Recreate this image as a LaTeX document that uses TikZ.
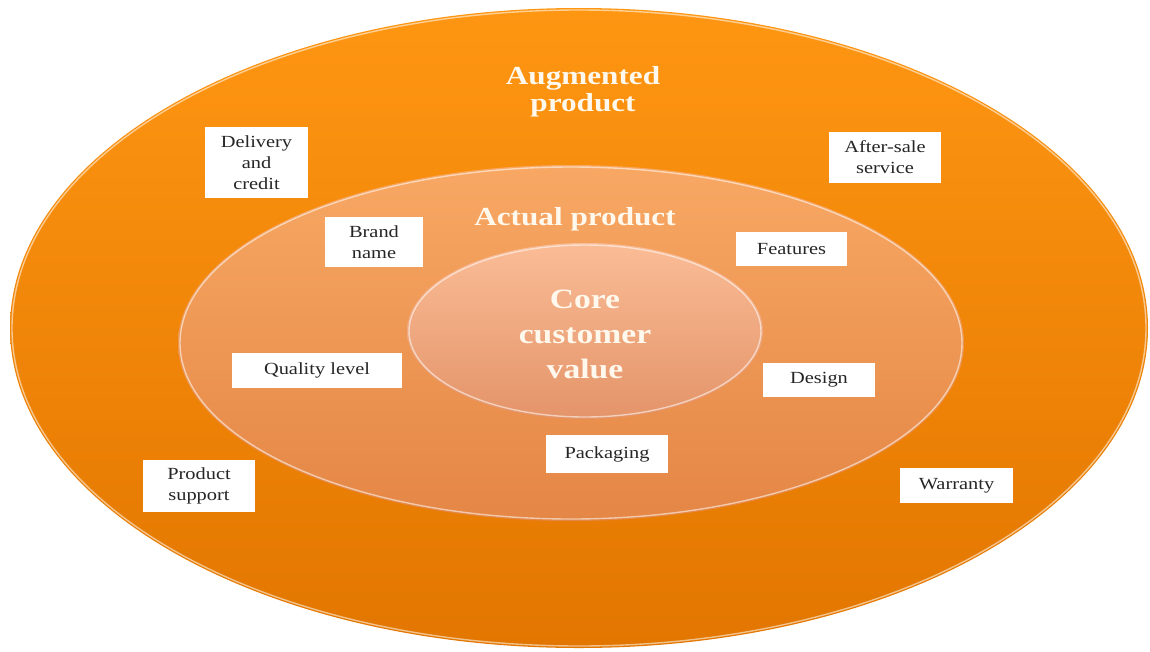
\documentclass[tikz,border=0pt]{standalone}
\usepackage{fontspec}
\setmainfont[FakeStretch=1.2]{Liberation Serif}
\definecolor{outerTop}{RGB}{255,150,18}
\definecolor{outerBot}{RGB}{226,118,0}
\definecolor{midTop}{RGB}{248,168,100}
\definecolor{midBot}{RGB}{228,134,70}
\definecolor{coreTop}{RGB}{250,188,150}
\definecolor{coreBot}{RGB}{228,148,105}
\definecolor{titleInk}{RGB}{255,248,236}
\tikzset{
  tag/.style={fill=white, inner sep=2pt, align=center, text=black!85,
    font=\fontsize{17}{21}\selectfont},
  ringtitle/.style={text=titleInk, align=center,
    font=\bfseries\fontsize{26}{27}\selectfont},
  bevel/.style={draw=white, draw opacity=0.55, line width=1.4pt}
}
\begin{document}
\begin{tikzpicture}[x=1pt,y=-1pt]
    \useasboundingbox (0,0) rectangle (1150,651);
    % the three rings
    \shade[top color=outerTop, bottom color=outerBot] (579,328) ellipse [x radius=569, y radius=320];
    \draw[bevel] (579,328) ellipse [x radius=567, y radius=318];
    \shade[top color=midTop, bottom color=midBot] (571,343) ellipse [x radius=393, y radius=178];
    \draw[bevel] (571,343) ellipse [x radius=391, y radius=176];
    \shade[top color=coreTop, bottom color=coreBot] (585,331) ellipse [x radius=178, y radius=88];
    \draw[bevel] (585,331) ellipse [x radius=176, y radius=86];

    % ring titles
    \node[ringtitle] (aug) at (583,92) {Augmented\\product};
    \node[ringtitle] (act) at (575,219) {Actual product};
    \node[ringtitle, font=\bfseries\fontsize{28}{35}\selectfont] (core) at (585,334) {Core\\customer\\value};

    % augmented product
    \node[tag, minimum width=103pt, minimum height=71pt] (deliv) at (256.5,162.5) {Delivery\\and\\credit};
    \node[tag, minimum width=112pt, minimum height=51pt] (after) at (885,157.5) {After-sale\\service};
    \node[tag, minimum width=112pt, minimum height=52pt] (supp) at (199,486) {Product\\support};
    \node[tag, minimum width=113pt, minimum height=35pt] (warr) at (956.5,485.5) {Warranty};

    % actual product
    \node[tag, minimum width=98pt, minimum height=50pt] (brand) at (374,242) {Brand\\name};
    \node[tag, minimum width=111pt, minimum height=34pt] (feat) at (791.5,249) {Features};
    \node[tag, minimum width=170pt, minimum height=35pt] (qual) at (317,370.5) {Quality level};
    \node[tag, minimum width=112pt, minimum height=34pt] (design) at (819,380) {Design};
    \node[tag, minimum width=122pt, minimum height=38pt] (pack) at (607,454) {Packaging};
\end{tikzpicture}
\end{document}
